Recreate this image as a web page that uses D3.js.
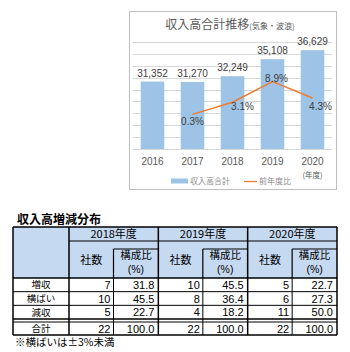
<!DOCTYPE html>
<html><head><meta charset="utf-8">
<script src="https://cdn.jsdelivr.net/npm/d3@7"></script>
<style>
html,body{margin:0;padding:0;background:#fff;}
svg{display:block;font-family:"Noto Sans CJK JP","Noto Sans",sans-serif;}
</style></head>
<body><svg id="c" width="350" height="352"></svg>
<script>
// ---- chart data ----
const years = ["2016","2017","2018","2019","2020"];
const revenue = [31352, 31270, 32249, 35108, 36629];
const rateYears = ["2017","2018","2019","2020"];
const rates = [-0.3, 3.1, 8.9, 4.3];
const rateLabels = ["0.3%","3.1%","8.9%","4.3%"];
const chartTitle = "収入高合計推移";
const chartSub = "(気象・波浪)";
const legendNames = ["収入高合計","前年度比"];
const yearUnit = "(年度)";

// ---- table data ----
const tableTitle = "収入高増減分布";
const fiscalYears = ["2018年度","2019年度","2020年度"];
const categories = ["増収","横ばい","減収"];
const counts = [[7,10,5],[10,8,4],[5,6,11]];
const ratios = [[31.8,45.5,22.7],[45.5,36.4,18.2],[22.7,27.3,50.0]];
const totalCounts = [22,22,22];
const totalRatios = [100.0,100.0,100.0];
const totalLabel = "合計";
const colHeads = ["社数","構成比","(%)"];
const note = "※横ばいは±3%未満";

const svg = d3.select("#c");
const fmt = d3.format(",");
const NUMF = "Liberation Sans, Arial, sans-serif";

// ---------- chart ----------
const box = {x:129, y:11, w:207, h:178};
svg.append("rect").attr("x",box.x+0.5).attr("y",box.y+0.5).attr("width",box.w).attr("height",box.h)
  .attr("fill","#fff").attr("stroke","#bfbfbf");

const plot = {l:132.5, r:332.5, t:42, b:149};
const x = d3.scaleBand().domain(years).range([plot.l, plot.r]).paddingInner(0.41).paddingOuter(0.205);
const y = d3.scaleLinear().domain([20000, 38000]).range([plot.b, plot.t]);
const y2 = d3.scaleLinear().domain([-10, 20]).range([plot.b, plot.t]);

// gridlines
svg.append("g").selectAll("line").data(y.ticks(9).filter(d=>d>20000)).join("line")
  .attr("x1",plot.l).attr("x2",plot.r)
  .attr("y1",d=>Math.round(y(d))+0.5).attr("y2",d=>Math.round(y(d))+0.5)
  .attr("stroke","#d9d9d9").attr("stroke-width",1);

// bars
svg.append("g").selectAll("rect").data(revenue).join("rect")
  .attr("x",(d,i)=>x(years[i])).attr("width",x.bandwidth())
  .attr("y",d=>y(d)).attr("height",d=>plot.b-y(d))
  .attr("fill","#9dc3e6");

// baseline
svg.append("line").attr("x1",plot.l).attr("x2",plot.r).attr("y1",plot.b+0.5).attr("y2",plot.b+0.5)
  .attr("stroke","#d9d9d9");

// bar labels
svg.append("g").selectAll("text").data(revenue).join("text")
  .attr("x",(d,i)=>x(years[i])+x.bandwidth()/2).attr("y",d=>y(d)-5)
  .attr("text-anchor","middle").attr("font-size",10).attr("fill","#404040")
  .attr("font-family",NUMF)
  .text(d=>fmt(d));

// x axis labels
const xAxis = d3.axisBottom(x).tickSize(0).tickPadding(9);
const gx = svg.append("g").attr("transform",`translate(0,${plot.b})`).call(xAxis);
gx.select(".domain").remove();
gx.selectAll("text").attr("font-size",10).attr("fill","#595959").attr("font-family",NUMF);
svg.append("text").attr("x",x("2020")+x.bandwidth()/2).attr("y",178)
  .attr("text-anchor","middle").attr("font-size",7.5).attr("fill","#595959").text(yearUnit);

// line
const cx = d=>x(d)+x.bandwidth()/2;
const line = d3.line().x((d,i)=>cx(rateYears[i])).y(d=>y2(d));
svg.append("path").datum(rates).attr("d",line).attr("fill","none")
  .attr("stroke","#ed7d31").attr("stroke-width",1.5);
const off = [[0,11],[10,8],[4,0],[8,12]];
svg.append("g").selectAll("text").data(rates).join("text")
  .attr("x",(d,i)=>cx(rateYears[i])+off[i][0]).attr("y",(d,i)=>y2(d)+off[i][1])
  .attr("text-anchor","middle").attr("font-size",10).attr("fill","#404040")
  .attr("font-family",NUMF)
  .text((d,i)=>rateLabels[i]);

// title
const tt = svg.append("text").attr("x",230).attr("y",29).attr("text-anchor","middle").attr("fill","#595959");
tt.append("tspan").attr("font-size",12).text(chartTitle);
tt.append("tspan").attr("font-size",8).text(chartSub);

// legend
svg.append("rect").attr("x",171).attr("y",178.5).attr("width",17).attr("height",5).attr("fill","#9dc3e6");
svg.append("text").attr("x",190).attr("y",184).attr("font-size",8).attr("fill","#8c8c8c").text(legendNames[0]);
svg.append("line").attr("x1",244).attr("x2",257).attr("y1",181.5).attr("y2",181.5).attr("stroke","#ed7d31").attr("stroke-width",1.3);
svg.append("text").attr("x",259).attr("y",184).attr("font-size",8).attr("fill","#8c8c8c").text(legendNames[1]);

// ---------- table ----------
svg.append("text").attr("x",17).attr("y",224).attr("font-size",12).attr("font-weight","bold")
  .attr("fill","#000").text(tableTitle);

const T = {l:13, lab:69, r:337, top:227, r1:241, r2:278, dbl:319, dbl2:322, bot:335};
const gX = d3.scaleBand().domain(fiscalYears).range([T.lab, T.r]);
const subW = 44.5;
const rowY = d3.scaleBand().domain(categories).range([T.r2, T.dbl]);

const tg = svg.append("g");
tg.append("rect").attr("x",T.l).attr("y",T.top).attr("width",T.r-T.l).attr("height",T.r2-T.top).attr("fill","#c5d9f1");

function ln(x1,y1,x2,y2,w){tg.append("line").attr("x1",x1).attr("y1",y1).attr("x2",x2).attr("y2",y2).attr("stroke","#000").attr("stroke-width",w);}

ln(T.l,T.top,T.r,T.top,1.5);
ln(T.lab,T.r1,T.r,T.r1,1.2);
ln(T.l,T.r2,T.r,T.r2,1.5);
categories.slice(1).forEach(c=>ln(T.l,rowY(c),T.r,rowY(c),1));
ln(T.l,T.dbl,T.r,T.dbl,1.5);
ln(T.l,T.dbl2,T.r,T.dbl2,1);
ln(T.l,T.bot,T.r,T.bot,1.5);
ln(T.l,T.top,T.l,T.bot,1.5);
ln(T.r,T.top,T.r,T.bot,1.5);
ln(T.lab,T.top,T.lab,T.bot,1.5);
fiscalYears.forEach((fy,i)=>{
  const gx0 = gX(fy);
  if(i>0) ln(gx0,T.top,gx0,T.bot,1.5);
  const sx = gx0+subW;
  ln(sx,T.r1+8,gX(fy)+gX.bandwidth(),T.r1+8,1.2);
  ln(sx,T.r1+8,sx,T.r2,1.2);
  ln(sx,T.r2,sx,T.bot,1);
});

const fs = 11;
fiscalYears.forEach((fy,i)=>{
  const gx0 = gX(fy), w = gX.bandwidth();
  const sc = gx0+subW+(w-subW)/2;
  tg.append("text").attr("x",gx0+w/2).attr("y",238).attr("text-anchor","middle").attr("font-size",fs).text(fy);
  tg.append("text").attr("x",gx0+subW/2).attr("y",264).attr("text-anchor","middle").attr("font-size",fs).text(colHeads[0]);
  tg.append("text").attr("x",sc).attr("y",258.5).attr("text-anchor","middle").attr("font-size",10.5).text(colHeads[1]);
  tg.append("text").attr("x",sc).attr("y",273).attr("text-anchor","middle").attr("font-size",10.5)
    .attr("font-family",NUMF).text(colHeads[2]);
  categories.forEach((c,j)=>{
    const yy = rowY(c)+rowY.bandwidth()/2+4;
    tg.append("text").attr("x",gx0+subW-3).attr("y",yy).attr("text-anchor","end").attr("font-size",fs).attr("font-family",NUMF).text(counts[i][j]);
    tg.append("text").attr("x",gx0+w-4).attr("y",yy).attr("text-anchor","end").attr("font-size",fs).attr("font-family",NUMF).text(ratios[i][j].toFixed(1));
  });
  const yt = (T.dbl2+T.bot)/2+4;
  tg.append("text").attr("x",gx0+subW-3).attr("y",yt).attr("text-anchor","end").attr("font-size",fs).attr("font-family",NUMF).text(totalCounts[i]);
  tg.append("text").attr("x",gx0+w-4).attr("y",yt).attr("text-anchor","end").attr("font-size",fs).attr("font-family",NUMF).text(totalRatios[i].toFixed(1));
});
categories.forEach(c=>{
  tg.append("text").attr("x",(T.l+T.lab)/2).attr("y",rowY(c)+rowY.bandwidth()/2+3.5).attr("text-anchor","middle").attr("font-size",9.5).text(c);
});
tg.append("text").attr("x",(T.l+T.lab)/2).attr("y",(T.dbl2+T.bot)/2+3.5).attr("text-anchor","middle").attr("font-size",9.5).text(totalLabel);

svg.append("text").attr("x",15).attr("y",346).attr("font-size",10.5).text(note);
</script></body></html>
